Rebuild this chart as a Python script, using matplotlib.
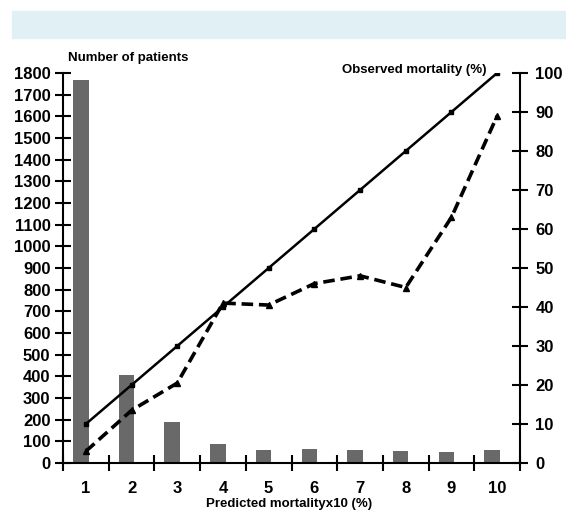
import matplotlib
matplotlib.use("Agg")
import matplotlib.pyplot as plt
from matplotlib.patches import Rectangle

categories = [1, 2, 3, 4, 5, 6, 7, 8, 9, 10]
patients = [1770, 405, 190, 88, 62, 65, 58, 55, 52, 58]
predicted = [10, 20, 30, 40, 50, 60, 70, 80, 90, 100]
observed = [3, 13.5, 20.5, 41, 40.5, 46, 48, 45, 63, 89]
left_ticks = list(range(0, 1900, 100))
right_ticks = list(range(0, 110, 10))

plt.rcParams['font.family'] = ['Liberation Sans', 'DejaVu Sans']
fig = plt.figure(figsize=(5.66, 5.11), dpi=100)
fig.patches.append(Rectangle((12/566, 1-38/511), 554/566, 27/511,
                             transform=fig.transFigure, color='#e1f0f5', zorder=0))

ax = fig.add_axes([63/566, 1-463/511, 457/566, 390/511])
ax.bar([c - 0.11 for c in categories], patients, width=0.34, color='#696969', zorder=1)
ax.set_xlim(0.5, 10.5)
ax.set_ylim(0, 1800)
ax.set_yticks(left_ticks)
ax.set_yticklabels([str(t) for t in left_ticks], fontsize=12, fontweight='bold')
ax.set_xticks([c + 0.5 for c in [0] + categories])
ax.set_xticklabels([])
ax.set_xticks(categories, minor=True)
ax.set_xticklabels([str(c) for c in categories], minor=True, fontsize=12, fontweight='bold')
ax.tick_params(axis='x', which='major', direction='inout', length=12, width=1.5)
ax.tick_params(axis='x', which='minor', length=0, pad=13)
ax.tick_params(axis='y', direction='inout', length=12, width=1.5, pad=3)
ax.spines['top'].set_visible(False)
ax.spines['right'].set_visible(False)
for s in ['left', 'bottom']:
    ax.spines[s].set_linewidth(1.5)

ax2 = ax.twinx()
ax2.plot(categories, predicted, color='black', lw=1.8, marker='s', ms=3.5, zorder=3)
ax2.plot(categories, observed, color='black', lw=2.6, ls=(0, (3.2, 1.6)), marker='^', ms=5, zorder=3)
ax2.set_ylim(0, 100)
ax2.set_yticks(right_ticks)
ax2.set_yticklabels([str(t) for t in right_ticks], fontsize=12, fontweight='bold')
ax2.tick_params(axis='y', direction='inout', length=12, width=1.5, pad=5)
ax2.spines['top'].set_visible(False)
ax2.spines['left'].set_visible(False)
ax2.spines['bottom'].set_visible(False)
ax2.spines['right'].set_linewidth(1.5)
ax2.set_xlim(0.5, 10.5)

fig.text(68/566, 1-58/511, 'Number of patients', fontsize=9.5, fontweight='bold', va='center', ha='left')
fig.text(487/566, 1-70/511, 'Observed mortality (%)', fontsize=9.5, fontweight='bold', va='center', ha='right')
fig.text(289/566, 1-504/511, 'Predicted mortalityx10 (%)', fontsize=9.5, fontweight='bold', va='center', ha='center')

fig.savefig('out.png', dpi=100)
